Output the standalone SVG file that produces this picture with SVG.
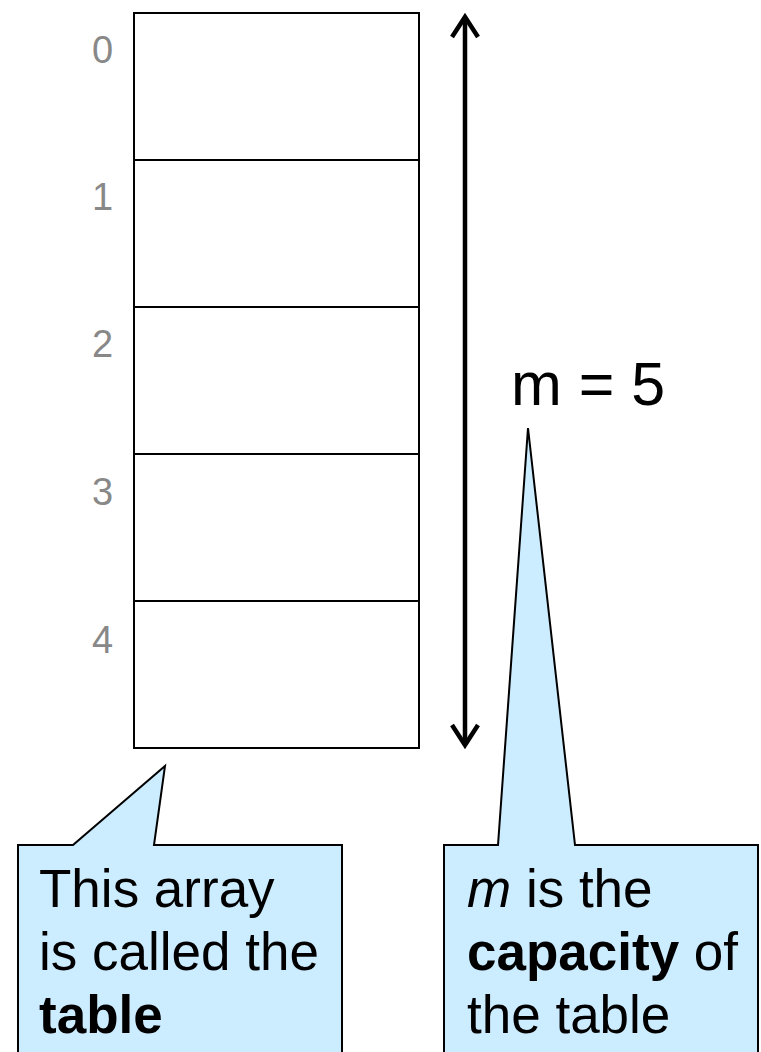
<svg xmlns="http://www.w3.org/2000/svg" width="761" height="1052" viewBox="0 0 761 1052">
<style>
.cell{fill:#fff;stroke:#000;stroke-width:2}
.idx{font-family:"Liberation Sans",Arial,sans-serif;font-size:38px;fill:#888888}
.call{fill:#CCECFF;stroke:#000;stroke-width:2;stroke-linejoin:miter}
.ct{font-family:"Liberation Sans",Arial,sans-serif;font-size:53px;fill:#000}
.arr{fill:none;stroke:#000;stroke-width:4.5}
</style>
<rect width="761" height="1052" fill="#fff"/>
<g id="table">
<rect class="cell" x="134" y="13" width="285" height="147"/>
<rect class="cell" x="134" y="160" width="285" height="147"/>
<rect class="cell" x="134" y="307" width="285" height="147"/>
<rect class="cell" x="134" y="454" width="285" height="147"/>
<rect class="cell" x="134" y="601" width="285" height="147"/>
</g>
<g id="indices">
<text class="idx" x="92" y="63">0</text>
<text class="idx" x="92" y="210">1</text>
<text class="idx" x="92" y="357">2</text>
<text class="idx" x="92" y="505">3</text>
<text class="idx" x="92" y="653">4</text>
</g>
<g id="connectors">
<line class="arr" x1="465" y1="17" x2="465" y2="745"/>
<polyline class="arr" points="452,37 465,17 478,37"/>
<polyline class="arr" points="452,725 465,745 478,725"/>
</g>
<g id="mlabel">
<text x="511" y="405" font-family="Liberation Sans,Arial,sans-serif" font-size="61" fill="#000">m = 5</text>
</g>
<g id="callout-table">
<path class="call" d="M18,1053 L18,845 L73,845 L165,766 L154,845 L342,845 L342,1053"/>
<text class="ct" x="39" y="907">This array</text>
<text class="ct" x="39" y="970">is called the</text>
<text class="ct" x="39" y="1033" font-weight="bold">table</text>
</g>
<g id="callout-capacity">
<path class="call" d="M444,1053 L444,845 L498,845 L528,428 L575,845 L758,845 L758,1053"/>
<text class="ct" x="467" y="907"><tspan font-style="italic">m</tspan> is the</text>
<text class="ct" x="467" y="970"><tspan font-weight="bold">capacity</tspan> of</text>
<text class="ct" x="467" y="1033">the table</text>
</g>
</svg>
